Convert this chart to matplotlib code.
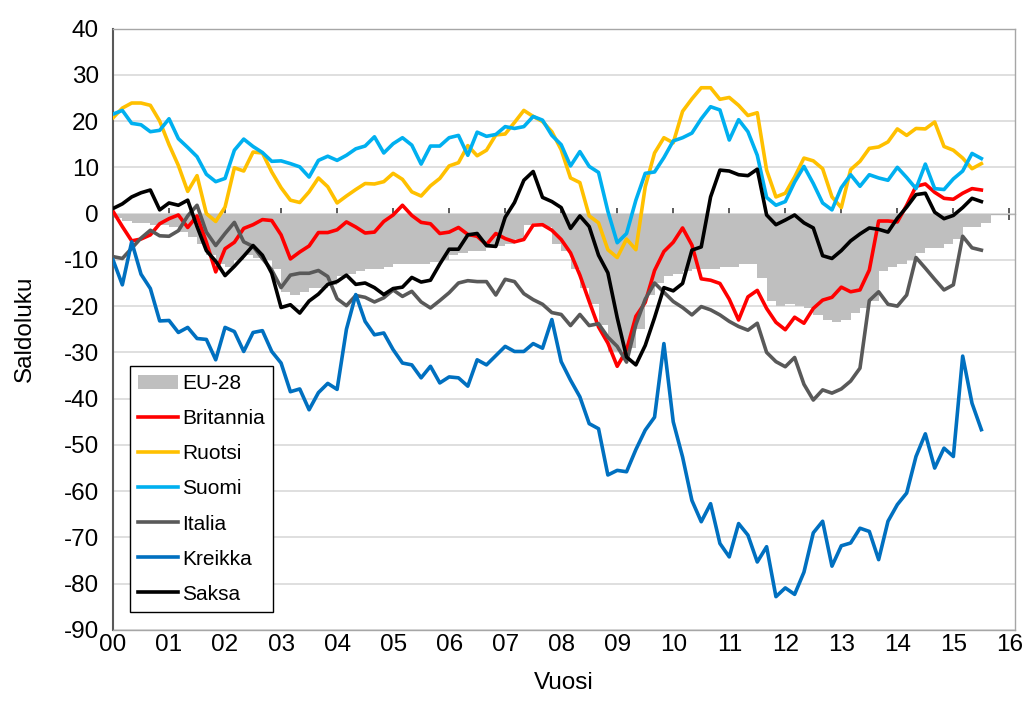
import matplotlib

matplotlib.use("Agg")
import matplotlib.pyplot as plt
import numpy as np

plt.rcParams["font.family"] = ["Liberation Sans", "DejaVu Sans"]
plt.rcParams["axes.unicode_minus"] = False

# bimonthly readings, Jan 2000 .. Jul 2015 (saldoluku)
eu28 = [
    -1.0, -1.5, -2.0, -2.0, -2.5, -2.5, -3.0, -4.0, -5.0, -6.5, -9.0, -11.0,
    -11.5, -10.0, -9.0, -9.5, -10.0, -12.0, -17.0, -17.5, -17.0, -16.0, -16.0, -15.5,
    -13.5, -13.0, -12.5, -12.0, -12.0, -11.5, -11.0, -11.0, -11.0, -11.0, -10.5, -10.0,
    -9.0, -8.5, -8.0, -8.0, -7.5, -7.0, -6.5, -5.5, -2.5, -2.0, -3.0, -6.5,
    -8.0, -12.0, -16.0, -19.5, -24.0, -30.0, -30.0, -29.0, -25.0, -17.5, -15.0, -13.5,
    -13.0, -12.5, -12.0, -12.0, -12.0, -11.5, -11.5, -11.0, -11.0, -14.0, -19.0, -20.0,
    -19.5, -20.0, -20.5, -22.0, -23.0, -23.5, -23.0, -21.5, -20.5, -19.0, -12.5, -11.5,
    -11.0, -10.0, -8.5, -7.5, -7.5, -6.5, -5.5, -3.0, -3.0, -2.0,
]
britannia = [
    0.5, -2.8, -5.9, -5.5, -4.6, -2.2, -1.1, -0.3, -3.0, -0.5, -6.2, -12.6,
    -7.6, -6.2, -3.2, -2.4, -1.3, -1.5, -4.6, -9.8, -8.3, -7.0, -4.1, -4.1,
    -3.5, -1.8, -2.9, -4.2, -4.0, -1.7, -0.3, 1.8, -0.4, -1.9, -2.2, -4.3,
    -4.0, -3.0, -4.5, -4.9, -6.7, -4.3, -5.4, -6.1, -5.6, -2.5, -2.4, -3.6,
    -5.6, -8.5, -13.3, -19.0, -24.5, -28.0, -33.0, -29.5, -22.2, -19.2, -12.3, -8.2,
    -6.2, -3.1, -6.8, -14.1, -14.4, -15.1, -18.5, -23.0, -18.0, -16.6, -20.5, -23.5,
    -25.1, -22.4, -23.7, -20.5, -18.7, -18.1, -15.9, -16.9, -16.5, -12.2, -1.6, -1.6,
    -1.8, 1.8, 5.9, 6.4, 4.6, 3.3, 3.1, 4.4, 5.4, 5.1,
]
ruotsi = [
    20.7, 22.8, 23.9, 23.9, 23.4, 20.0, 14.9, 10.4, 4.8, 8.2, 0.0, -1.7,
    1.4, 9.9, 9.2, 13.3, 13.1, 9.0, 5.6, 2.9, 2.4, 4.7, 7.7, 5.8,
    2.3, 3.8, 5.2, 6.5, 6.4, 6.9, 8.7, 7.4, 4.7, 3.8, 6.0, 7.6,
    10.3, 11.0, 14.7, 12.5, 13.7, 17.0, 17.2, 19.7, 22.3, 21.0, 19.9, 17.7,
    13.8, 7.7, 6.7, -0.5, -2.0, -7.8, -9.5, -5.5, -7.8, 5.8, 13.1, 16.4,
    15.3, 22.1, 24.8, 27.2, 27.2, 24.7, 25.1, 23.4, 21.2, 21.8, 9.4, 3.6,
    4.4, 7.9, 12.0, 11.4, 9.7, 3.6, 1.3, 9.5, 11.3, 14.1, 14.4, 15.5,
    18.3, 16.9, 18.4, 18.3, 19.8, 14.5, 13.7, 12.0, 9.7, 10.8,
]
suomi = [
    21.5, 22.3, 19.5, 19.2, 17.7, 18.0, 20.5, 16.2, 14.3, 12.3, 8.5, 6.9,
    7.6, 13.7, 16.1, 14.5, 13.2, 11.3, 11.4, 10.8, 10.1, 7.9, 11.5, 12.4,
    11.5, 12.6, 14.0, 14.6, 16.6, 13.1, 15.1, 16.4, 14.8, 10.7, 14.6, 14.6,
    16.4, 16.9, 12.6, 17.6, 16.7, 17.1, 18.8, 18.4, 18.8, 21.0, 20.2, 16.9,
    14.9, 10.3, 13.4, 10.2, 8.9, 0.5, -6.3, -4.3, 2.9, 8.7, 9.0, 12.1,
    15.7, 16.4, 17.4, 20.5, 23.1, 22.4, 15.9, 20.3, 17.7, 12.6, 3.5, 1.8,
    2.6, 6.8, 10.2, 6.5, 2.3, 0.8, 5.6, 8.4, 5.9, 8.4, 7.7, 7.2,
    10.0, 7.8, 5.4, 10.7, 5.4, 5.2, 7.5, 9.2, 13.0, 11.9,
]
italia = [
    -9.3, -9.7, -7.5, -5.3, -3.6, -4.8, -4.9, -3.7, -0.5, 1.8, -4.0, -6.9,
    -4.3, -1.9, -6.1, -7.1, -9.7, -12.2, -16.0, -13.3, -12.9, -12.9, -12.3, -13.6,
    -18.4, -19.9, -17.7, -18.1, -19.1, -18.2, -16.5, -17.9, -16.8, -19.1, -20.4, -18.8,
    -17.1, -15.0, -14.5, -14.7, -14.7, -17.6, -14.2, -14.7, -17.3, -18.6, -19.6, -21.4,
    -21.8, -24.2, -21.8, -24.2, -23.8, -26.7, -28.7, -32.1, -24.0, -18.5, -15.0, -17.0,
    -19.0, -20.3, -21.9, -20.1, -20.8, -21.9, -23.3, -24.4, -25.2, -23.7, -30.0, -32.0,
    -33.1, -31.1, -36.9, -40.3, -38.1, -38.8, -37.9, -36.2, -33.4, -18.8, -16.9, -19.6,
    -20.0, -17.6, -9.5, -11.8, -14.2, -16.5, -15.4, -4.9, -7.4, -7.9,
]
kreikka = [
    -10.0, -15.4, -6.1, -13.1, -16.2, -23.2, -23.1, -25.7, -24.6, -27.0, -27.2, -31.6,
    -24.6, -25.5, -29.8, -25.7, -25.3, -29.8, -32.3, -38.5, -37.9, -42.4, -38.7, -36.7,
    -38.0, -25.0, -17.5, -23.3, -26.2, -25.8, -29.4, -32.3, -32.7, -35.5, -33.0, -36.6,
    -35.3, -35.5, -37.3, -31.6, -32.7, -30.7, -28.7, -29.8, -29.8, -28.1, -29.1, -22.9,
    -32.0, -36.0, -39.6, -45.4, -46.5, -56.5, -55.5, -55.8, -51.0, -46.8, -44.0, -28.1,
    -45.0, -52.6, -62.0, -66.6, -62.7, -71.3, -74.2, -67.0, -69.5, -75.3, -72.0, -82.8,
    -80.9, -82.3, -77.5, -69.0, -66.5, -76.2, -71.8, -71.2, -68.0, -68.7, -74.8, -66.5,
    -62.9, -60.4, -52.5, -47.6, -55.0, -50.7, -52.5, -30.8, -41.0, -46.7,
]
saksa = [
    1.1, 2.1, 3.6, 4.5, 5.1, 0.8, 2.3, 1.8, 2.9, -2.8, -8.0, -10.3,
    -13.4, -11.4, -9.2, -6.9, -9.0, -12.9, -20.3, -19.7, -21.5, -18.9, -17.4, -15.3,
    -14.7, -13.3, -15.3, -15.0, -16.0, -17.5, -16.2, -15.9, -13.8, -14.8, -14.4, -10.9,
    -7.7, -7.7, -4.6, -4.3, -6.9, -7.1, -0.8, 2.4, 7.2, 9.1, 3.5, 2.6,
    1.3, -3.2, -0.5, -2.8, -9.0, -12.8, -22.5, -31.0, -32.7, -28.5, -22.5, -16.0,
    -16.7, -15.1, -7.9, -7.2, 3.6, 9.4, 9.2, 8.4, 8.2, 9.6, -0.3, -2.4,
    -1.4, -0.3, -2.0, -3.1, -9.1, -9.7, -8.0, -5.9, -4.4, -3.1, -3.4, -4.0,
    -1.0, 1.4, 4.1, 4.4, 0.3, -1.1, -0.4, 1.3, 3.3, 2.6,
]

series = [
    ("Britannia", britannia, "#FF0000"),
    ("Ruotsi", ruotsi, "#FFC000"),
    ("Suomi", suomi, "#00B0F0"),
    ("Italia", italia, "#595959"),
    ("Kreikka", kreikka, "#0070C0"),
    ("Saksa", saksa, "#000000"),
]
year_labels = [f"{y:02d}" for y in range(17)]

# years since 2000, one reading every two months
t = np.arange(len(eu28)) / 6.0

fig = plt.figure(figsize=(10.32, 7.15), dpi=100)
ax = fig.add_axes([0.1095, 0.1189, 0.874, 0.8412])

handles = [ax.bar(t, eu28, width=1 / 6.0, align="edge", color="#BFBFBF", lw=0,
                  label="EU-28", zorder=2)]
for name, vals, col in series:
    (ln,) = ax.plot(t, vals, color=col, lw=2.6, label=name, zorder=3)
    handles.append(ln)

ax.set_xlim(0, 16.1)
ax.set_ylim(-90, 40)
ax.set_yticks(np.arange(-90, 41, 10))
ax.yaxis.grid(True, color="#D9D9D9", lw=1.2, zorder=0)
ax.set_axisbelow(True)
ax.tick_params(axis="y", length=0, pad=10, labelsize=17.5)

ax.set_xticks(range(17))
ax.set_xticklabels(year_labels)
ax.tick_params(axis="x", length=0, pad=3, labelsize=17.5)

for side in ("top", "right", "bottom"):
    ax.spines[side].set_color("#A6A6A6")
    ax.spines[side].set_linewidth(1.0)
ax.spines["left"].set_color("#595959")
ax.spines["left"].set_linewidth(1.5)

# category axis crossing at zero
zero_ax = ax.secondary_xaxis(90.0 / 130.0)
zero_ax.set_xticks(range(17))
zero_ax.set_xticklabels([])
zero_ax.tick_params(direction="inout", length=9, width=1.2, color="#404040")
zero_ax.spines["bottom"].set_color("#404040")
zero_ax.spines["bottom"].set_linewidth(1.6)

ax.set_ylabel("Saldoluku", fontsize=17.5)
ax.yaxis.set_label_coords(-0.085, 0.5)
ax.set_xlabel("Vuosi", fontsize=17.5)
ax.xaxis.set_label_coords(0.5, -0.07)

leg = ax.legend(
    handles=handles,
    loc="lower left",
    bbox_to_anchor=(0.019, 0.03),
    borderaxespad=0,
    fontsize=15,
    labelspacing=0.77,
    handlelength=1.9,
    handletextpad=0.2,
    fancybox=False,
    framealpha=1,
    edgecolor="#000000",
    borderpad=0.4,
)
leg.get_frame().set_linewidth(1.0)

fig.savefig("out.png", dpi=100)
